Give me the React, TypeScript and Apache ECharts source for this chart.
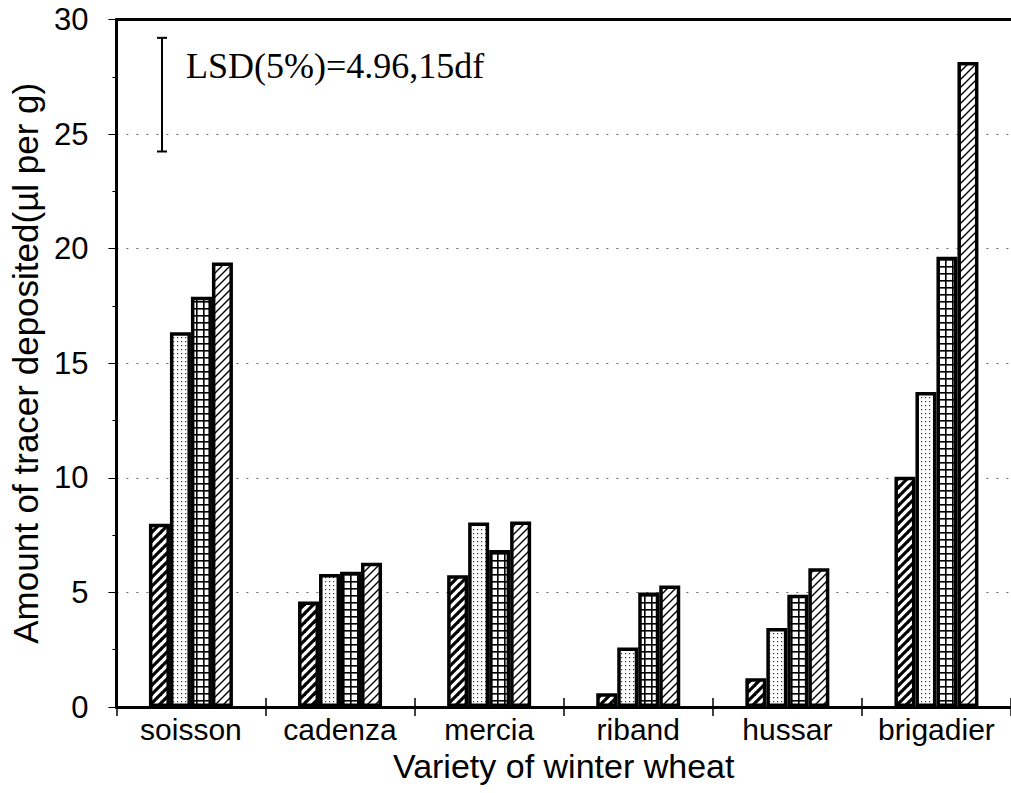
import React, { useEffect, useRef } from "react";
import * as echarts from "echarts";

const categories = ["soisson", "cadenza", "mercia", "riband", "hussar", "brigadier"];
const seriesA = [8.0, 4.6, 5.75, 0.6, 1.25, 10.05];
const seriesB = [16.35, 5.8, 8.05, 2.6, 3.45, 13.75];
const seriesC = [17.9, 5.9, 6.85, 5.0, 4.9, 19.65];
const seriesD = [19.4, 6.3, 8.1, 5.3, 6.05, 28.15];
const yTicks = { min: 0, max: 30, interval: 5 };
const lsdValue = 4.96;
const lsdTop = 29.2;
const lsdText = "LSD(5%)=4.96,15df";
const xName = "Variety of winter wheat";
const yName = "Amount of tracer deposited(\u00b5l per g)";

function makeTile(size: number, draw: (c: CanvasRenderingContext2D) => void): string {
  const cv = document.createElement("canvas");
  cv.width = size;
  cv.height = size;
  const c = cv.getContext("2d")!;
  c.fillStyle = "#fff";
  c.fillRect(0, 0, size, size);
  draw(c);
  return cv.toDataURL();
}

function hatch(size: number, lw: number): string {
  return makeTile(size, (c) => {
    c.strokeStyle = "#000";
    c.lineWidth = lw;
    c.lineCap = "square";
    for (const off of [-size, 0, size]) {
      c.beginPath();
      c.moveTo(off, size);
      c.lineTo(off + size, 0);
      c.stroke();
    }
  });
}

export default function App() {
  const ref = useRef<HTMLDivElement>(null);
  useEffect(() => {
    if (!ref.current) return;
    const chart = echarts.init(ref.current, null, { renderer: "svg" });
    const heavy = hatch(9, 3.2);
    const light = hatch(8, 1.4);
    const dots = makeTile(4, (c) => {
      c.fillStyle = "#333";
      c.fillRect(1, 1, 1.2, 1.2);
    });
    const grid = makeTile(7, (c) => {
      c.fillStyle = "#000";
      c.fillRect(0, 0, 7, 1.6);
      c.fillRect(0, 0, 1.6, 7);
    });
    const font = "'Liberation Sans', Arial, sans-serif";
    const mkBar = (data: number[], img: string) => ({
      type: "bar",
      data,
      barWidth: 21,
      barGap: "0%",
      itemStyle: {
        color: { image: img, repeat: "repeat" },
        borderColor: "#000",
        borderWidth: 3.5,
      },
    });
    chart.setOption({
      animation: false,
      backgroundColor: "#fff",
      grid: { left: 113, right: -2, top: 19.5, bottom: 86, containLabel: false },
      xAxis: [
        {
          type: "category",
          data: categories,
          position: "bottom",
          axisLine: { show: true, lineStyle: { color: "#000", width: 3 } },
          axisTick: { show: true, length: 9, lineStyle: { color: "#000", width: 1.5 } },
          axisLabel: { color: "#000", fontSize: 30, fontFamily: font, margin: 7, interval: 0 },
          name: xName,
          nameLocation: "middle",
          nameGap: 42,
          nameTextStyle: { color: "#000", fontSize: 34, fontFamily: font },
        },
        {
          type: "category",
          data: categories,
          position: "bottom",
          axisLine: { show: false },
          axisTick: { show: true, inside: true, length: 9, lineStyle: { color: "#000", width: 1.5 } },
          axisLabel: { show: false },
        },
        {
          type: "category",
          data: categories,
          position: "top",
          axisLine: { show: true, lineStyle: { color: "#000", width: 3 } },
          axisTick: { show: false },
          axisLabel: { show: false },
        },
      ],
      yAxis: {
        type: "value",
        min: yTicks.min,
        max: yTicks.max,
        interval: yTicks.interval,
        axisLine: { show: true, lineStyle: { color: "#000", width: 3 } },
        axisTick: { show: true, length: 8, lineStyle: { color: "#000", width: 1 } },
        minorTick: { show: true, splitNumber: 2, length: 4, lineStyle: { color: "#000", width: 1 } },
        axisLabel: { color: "#000", fontSize: 31, fontFamily: font, margin: 28 },
        splitLine: { show: true, lineStyle: { color: "#666", width: 1, type: [2, 8] } },
        name: yName,
        nameLocation: "middle",
        nameGap: 66,
        nameTextStyle: { color: "#000", fontSize: 35, fontFamily: font },
      },
      series: [mkBar(seriesA, heavy), mkBar(seriesB, dots), mkBar(seriesC, grid), mkBar(seriesD, light)],
    });
    const yTop = chart.convertToPixel({ yAxisIndex: 0 }, lsdTop) as number;
    const yBot = chart.convertToPixel({ yAxisIndex: 0 }, lsdTop - lsdValue) as number;
    const xBar = 162;
    chart.setOption({
      graphic: [
        { type: "line", shape: { x1: xBar, y1: yTop, x2: xBar, y2: yBot }, style: { stroke: "#000", lineWidth: 2 } },
        { type: "line", shape: { x1: xBar - 5, y1: yTop, x2: xBar + 5, y2: yTop }, style: { stroke: "#000", lineWidth: 2 } },
        { type: "line", shape: { x1: xBar - 5, y1: yBot, x2: xBar + 5, y2: yBot }, style: { stroke: "#000", lineWidth: 2 } },
        {
          type: "text",
          x: 186,
          y: 66,
          style: {
            text: lsdText,
            fill: "#000",
            fontSize: 36,
            fontFamily: "'Liberation Serif', 'Times New Roman', serif",
            verticalAlign: "middle",
            align: "left",
          },
        },
      ],
    });
    return () => chart.dispose();
  }, []);
  return (
    <div
      ref={ref}
      style={{ position: "absolute", left: 0, top: 0, width: 1011, height: 793, background: "#fff" }}
    />
  );
}
